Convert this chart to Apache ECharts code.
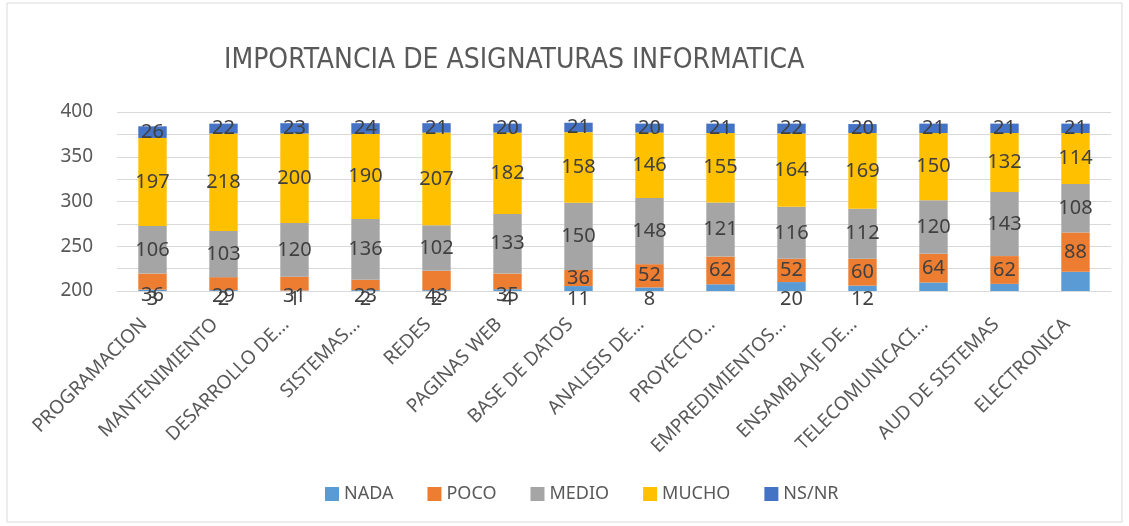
<!DOCTYPE html>
<html>
<head>
<meta charset="utf-8">
<script src="https://cdn.jsdelivr.net/npm/echarts@6/dist/echarts.min.js"></script>
<style>
  body { margin: 0; background: #fff; }
  #chart { width: 1129px; height: 526px; }
</style>
</head>
<body>
<div id="chart"></div>
<script>
  let categories = ['PROGRAMACION', 'MANTENIMIENTO', 'DESARROLLO DE...', 'SISTEMAS...', 'REDES', 'PAGINAS WEB', 'BASE DE DATOS',
    'ANALISIS DE...', 'PROYECTO...', 'EMPREDIMIENTOS...', 'ENSAMBLAJE DE...', 'TELECOMUNICACI...', 'AUD DE SISTEMAS', 'ELECTRONICA']
  let nada = [3, 2, 1, 2, 2, 4, 11, 8, 15, 20, 12, 19, 16, 43]
  let poco = [36, 29, 31, 23, 43, 35, 36, 52, 62, 52, 60, 64, 62, 88]
  let medio = [106, 103, 120, 136, 102, 133, 150, 148, 121, 116, 112, 120, 143, 108]
  let mucho = [197, 218, 200, 190, 207, 182, 158, 146, 155, 164, 169, 150, 132, 114]
  let nsnr = [26, 22, 23, 24, 21, 20, 21, 20, 21, 22, 20, 21, 21, 21]
  let yTickLabels = ['200', '250', '300', '350', '400']
  let nadaLabelHidden = [8, 11, 12, 13]

  let legend = ['NADA', 'POCO', 'MEDIO', 'MUCHO', 'NS/NR']
  let colors = ['#5b9bd5', '#ed7d31', '#a5a5a5', '#ffc000', '#4472c4']
  let font = 'Noto Sans'
  let labelStyle = {show: true, color: '#404040', fontSize: 20, fontFamily: font}

  let myChart = echarts.init(document.getElementById('chart'))
  let series = []
  let values = [nada, poco, medio, mucho, nsnr]
  legend.forEach((item, index) => {
    let data = values[index].map((v, i) => {
      if (index === 0) {
        return {value: v, label: {show: nadaLabelHidden.indexOf(i) < 0}}
      }
      if (index === 1 && v < 45 && nada[i] < 10) {
        return {value: v, label: {position: 'insideBottom', offset: [0, 14]}}
      }
      return v
    })
    series.push({
      name: item,
      type: 'bar',
      stack: 'total',
      barWidth: '40%',
      itemStyle: {color: colors[index]},
      label: Object.assign({position: index === 0 ? 'bottom' : 'inside', distance: -2}, labelStyle),
      data: data
    })
  })

  let option = {
    animation: false,
    graphic: [{
      type: 'rect',
      shape: {x: 7, y: 3, width: 1115, height: 519},
      style: {fill: 'none', stroke: '#d9d9d9', lineWidth: 1},
      silent: true
    }],
    title: {
      text: 'IMPORTANCIA DE ASIGNATURAS INFORMATICA',
      left: 219,
      top: 42,
      textStyle: {fontFamily: 'DejaVu Sans Condensed', fontWeight: 'normal', fontSize: 28, color: '#595959'}
    },
    legend: {
      data: legend,
      bottom: 18,
      left: 320,
      itemWidth: 14,
      itemHeight: 14,
      itemGap: 34,
      icon: 'rect',
      textStyle: {color: '#595959', fontSize: 18, fontFamily: font}
    },
    grid: {left: 117, right: 18, top: 112, bottom: 235},
    xAxis: {
      type: 'category',
      data: categories,
      axisLine: {lineStyle: {color: '#d9d9d9'}},
      axisTick: {show: false},
      axisLabel: {rotate: 45, interval: 0, color: '#595959', fontSize: 19, fontFamily: font, margin: 22, padding: [0, 12, 0, 0]}
    },
    yAxis: {
      type: 'value',
      min: 0,
      max: 400,
      interval: 50,
      axisLine: {show: false},
      axisTick: {show: false},
      splitLine: {lineStyle: {color: '#d9d9d9'}},
      axisLabel: {
        color: '#595959',
        fontSize: 19,
        fontFamily: font,
        margin: 24,
        formatter: v => v % 100 === 0 ? yTickLabels[v / 100] : ''
      }
    },
    series: series
  }
  myChart.setOption(option)
</script>
</body>
</html>
